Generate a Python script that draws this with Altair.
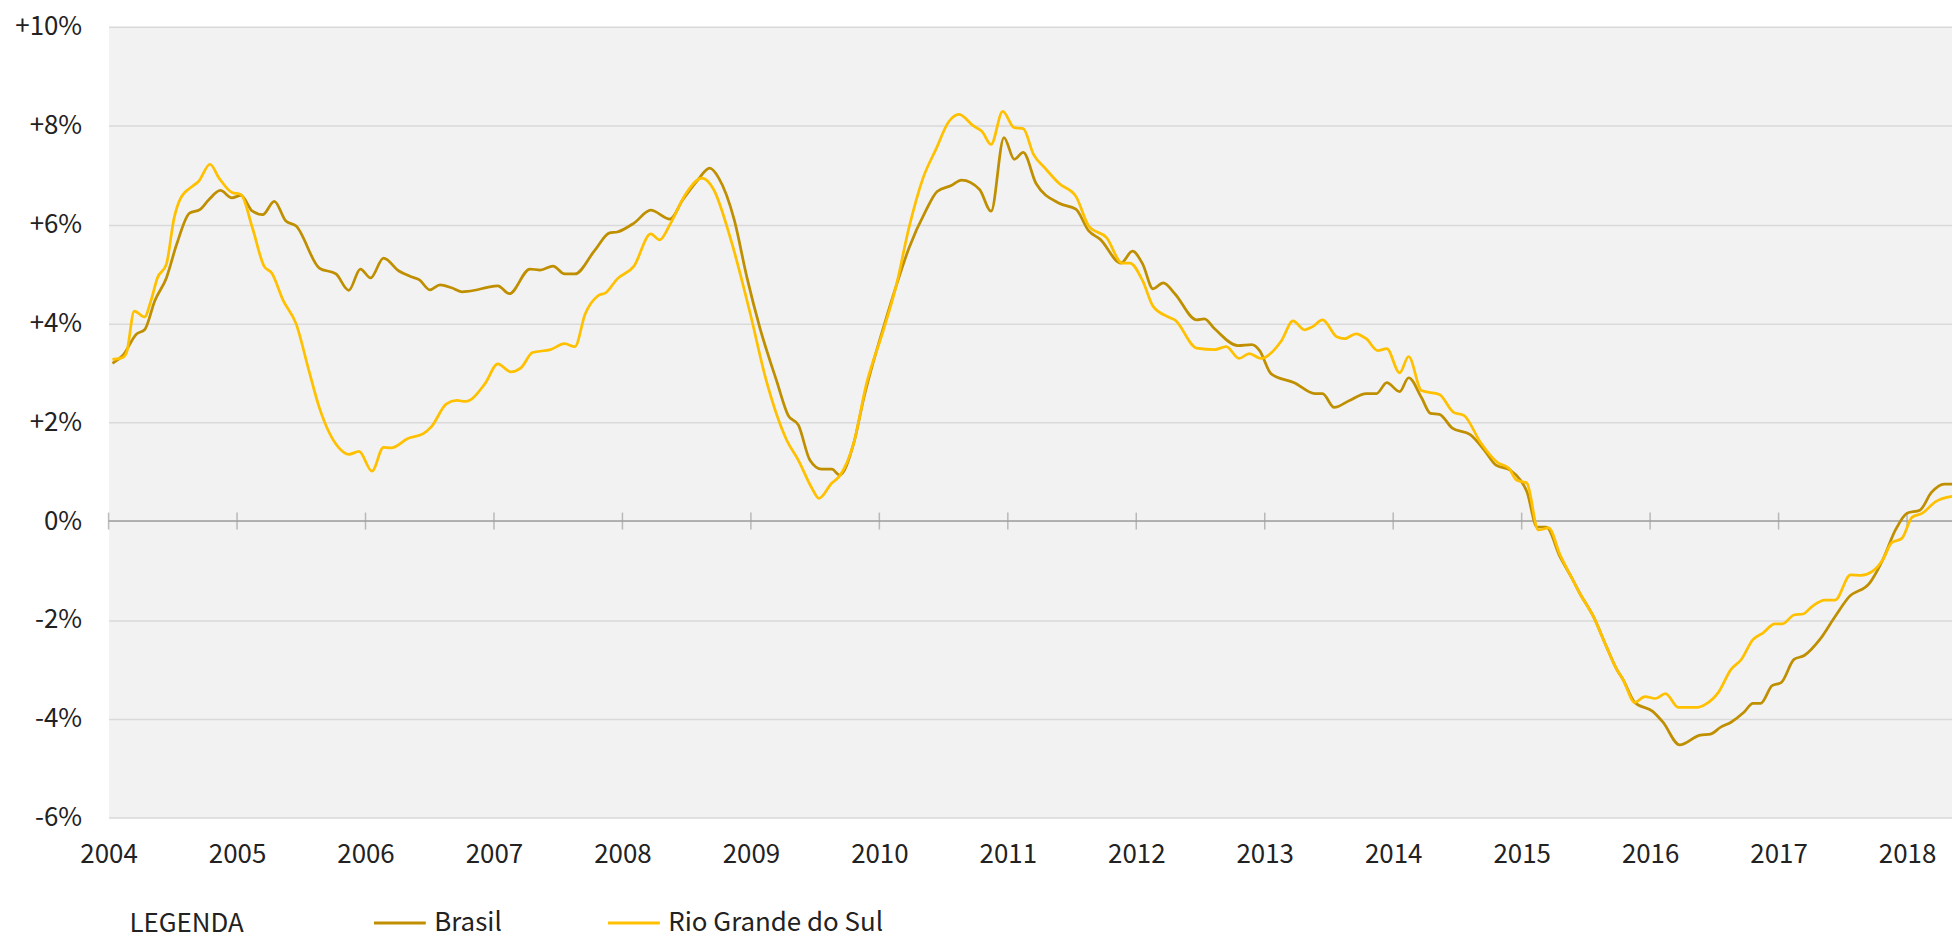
import altair as alt
import pandas as pd

# ---- data (fractional year, % change) ----
brasil_t = [2004.03, 2004.11, 2004.22, 2004.28, 2004.36, 2004.45, 2004.53, 2004.63, 2004.71, 2004.78,
            2004.87, 2004.96, 2005.03, 2005.12, 2005.20, 2005.29, 2005.38, 2005.46, 2005.64, 2005.77,
            2005.87, 2005.96, 2006.04, 2006.14, 2006.26, 2006.35, 2006.42, 2006.50, 2006.58, 2006.67,
            2006.75, 2006.85, 2006.95, 2007.03, 2007.12, 2007.28, 2007.36, 2007.46, 2007.55, 2007.63,
            2007.78, 2007.90, 2007.96, 2008.09, 2008.22, 2008.37, 2008.47, 2008.58, 2008.68, 2008.75,
            2008.87, 2008.97, 2009.07, 2009.20, 2009.29, 2009.37, 2009.46, 2009.55, 2009.63, 2009.69,
            2009.80, 2009.88, 2010.04, 2010.13, 2010.23, 2010.36, 2010.45, 2010.56, 2010.64, 2010.78,
            2010.87, 2010.97, 2011.05, 2011.12, 2011.22, 2011.40, 2011.53, 2011.63, 2011.72, 2011.88,
            2011.97, 2012.05, 2012.13, 2012.21, 2012.30, 2012.47, 2012.53, 2012.61, 2012.79, 2012.90,
            2012.96, 2013.05, 2013.23, 2013.39, 2013.45, 2013.54, 2013.66, 2013.79, 2013.87, 2013.95,
            2014.05, 2014.12, 2014.22, 2014.29, 2014.36, 2014.46, 2014.60, 2014.71, 2014.80, 2014.91,
            2014.99, 2015.04, 2015.12, 2015.19, 2015.30, 2015.39, 2015.45, 2015.56, 2015.66, 2015.74,
            2015.79, 2015.88, 2016.02, 2016.10, 2016.23, 2016.39, 2016.47, 2016.55, 2016.63, 2016.73,
            2016.80, 2016.86, 2016.95, 2017.02, 2017.12, 2017.20, 2017.32, 2017.44, 2017.55, 2017.71,
            2017.81, 2017.91, 2018.00, 2018.10, 2018.19, 2018.29, 2018.35]
brasil_v = [3.19, 3.35, 3.79, 3.87, 4.46, 4.92, 5.60, 6.23, 6.30, 6.50,
            6.69, 6.54, 6.59, 6.27, 6.20, 6.47, 6.07, 5.97, 5.12, 5.00,
            4.67, 5.10, 4.92, 5.32, 5.06, 4.95, 4.88, 4.68, 4.78, 4.72,
            4.64, 4.67, 4.73, 4.76, 4.60, 5.10, 5.08, 5.16, 5.00, 5.00,
            5.46, 5.83, 5.85, 6.03, 6.29, 6.11, 6.50, 6.88, 7.14, 6.94,
            6.10, 4.92, 3.91, 2.84, 2.14, 1.94, 1.23, 1.05, 1.05, 0.93,
            1.57, 2.50, 3.99, 4.75, 5.52, 6.27, 6.67, 6.79, 6.90, 6.71,
            6.27, 7.76, 7.32, 7.46, 6.83, 6.43, 6.31, 5.87, 5.70, 5.22,
            5.46, 5.20, 4.70, 4.82, 4.60, 4.07, 4.09, 3.89, 3.55, 3.57,
            3.45, 2.98, 2.80, 2.58, 2.58, 2.30, 2.44, 2.58, 2.58, 2.80,
            2.62, 2.90, 2.50, 2.18, 2.16, 1.88, 1.75, 1.43, 1.13, 1.03,
            0.83, 0.60, -0.12, -0.12, -0.73, -1.15, -1.45, -1.94, -2.54, -3.00,
            -3.21, -3.67, -3.85, -4.07, -4.53, -4.33, -4.31, -4.17, -4.07, -3.87,
            -3.69, -3.69, -3.33, -3.27, -2.80, -2.72, -2.40, -1.93, -1.53, -1.25,
            -0.79, -0.18, 0.16, 0.22, 0.58, 0.75, 0.75]

rs_t = [2004.03, 2004.11, 2004.14, 2004.20, 2004.28, 2004.33, 2004.38, 2004.45, 2004.51, 2004.56,
        2004.65, 2004.70, 2004.79, 2004.86, 2004.96, 2005.03, 2005.12, 2005.21, 2005.27, 2005.36,
        2005.46, 2005.56, 2005.64, 2005.79, 2005.87, 2005.95, 2006.05, 2006.14, 2006.20, 2006.33,
        2006.45, 2006.51, 2006.63, 2006.71, 2006.78, 2006.93, 2007.03, 2007.13, 2007.21, 2007.30,
        2007.44, 2007.55, 2007.63, 2007.71, 2007.81, 2007.87, 2007.96, 2008.09, 2008.22, 2008.29,
        2008.37, 2008.49, 2008.62, 2008.71, 2008.84, 2008.99, 2009.12, 2009.28, 2009.37, 2009.47,
        2009.53, 2009.63, 2009.69, 2009.80, 2009.90, 2010.03, 2010.13, 2010.23, 2010.34, 2010.44,
        2010.54, 2010.62, 2010.73, 2010.80, 2010.87, 2010.96, 2011.05, 2011.12, 2011.20, 2011.29,
        2011.40, 2011.53, 2011.63, 2011.77, 2011.89, 2011.95, 2012.05, 2012.13, 2012.25, 2012.30,
        2012.47, 2012.61, 2012.70, 2012.80, 2012.88, 2012.97, 2013.13, 2013.22, 2013.31, 2013.37,
        2013.45, 2013.56, 2013.62, 2013.71, 2013.79, 2013.88, 2013.95, 2014.05, 2014.12, 2014.22,
        2014.36, 2014.47, 2014.55, 2014.68, 2014.81, 2014.90, 2014.96, 2015.04, 2015.13, 2015.21,
        2015.30, 2015.39, 2015.45, 2015.56, 2015.66, 2015.74, 2015.79, 2015.88, 2015.96, 2016.04,
        2016.12, 2016.22, 2016.37, 2016.43, 2016.53, 2016.63, 2016.71, 2016.80, 2016.88, 2016.97,
        2017.03, 2017.12, 2017.19, 2017.26, 2017.36, 2017.44, 2017.56, 2017.64,
        2017.73, 2017.81, 2017.88, 2017.96, 2018.04, 2018.12, 2018.22, 2018.35]
rs_v = [3.27, 3.31, 3.41, 4.25, 4.13, 4.46, 4.92, 5.20, 6.13, 6.53,
        6.77, 6.87, 7.22, 6.94, 6.65, 6.61, 5.93, 5.16, 5.02, 4.46,
        3.99, 3.04, 2.30, 1.49, 1.35, 1.41, 1.01, 1.49, 1.48, 1.67,
        1.77, 1.90, 2.37, 2.44, 2.42, 2.78, 3.18, 3.02, 3.10, 3.41,
        3.47, 3.59, 3.53, 4.19, 4.56, 4.62, 4.90, 5.16, 5.81, 5.69,
        6.00, 6.61, 6.94, 6.71, 5.73, 4.25, 2.84, 1.63, 1.23, 0.69,
        0.46, 0.77, 0.91, 1.57, 2.78, 3.85, 4.75, 5.93, 6.94, 7.52,
        8.08, 8.23, 8.00, 7.88, 7.62, 8.29, 7.96, 7.94, 7.42, 7.14,
        6.83, 6.57, 5.97, 5.73, 5.22, 5.22, 4.86, 4.35, 4.13, 4.07,
        3.50, 3.47, 3.53, 3.29, 3.39, 3.29, 3.65, 4.05, 3.87, 3.93,
        4.07, 3.73, 3.69, 3.79, 3.69, 3.45, 3.49, 3.00, 3.33, 2.64,
        2.56, 2.20, 2.14, 1.59, 1.19, 1.07, 0.83, 0.77, -0.18, -0.14,
        -0.69, -1.15, -1.45, -1.94, -2.54, -3.00, -3.21, -3.67, -3.55, -3.59,
        -3.49, -3.77, -3.77, -3.71, -3.47, -3.00, -2.80, -2.40, -2.26, -2.08,
        -2.08, -1.90, -1.88, -1.73, -1.60, -1.60, -1.09, -1.10,
        -1.02, -0.79, -0.44, -0.35, 0.08, 0.16, 0.39, 0.50]

series_names = ["Brasil", "Rio Grande do Sul"]
series_colors = ["#bf8f00", "#ffc000"]
year_ticks = list(range(2004, 2019))
y_ticks = [-6, -4, -2, 0, 2, 4, 6, 8, 10]

df = pd.concat([
    pd.DataFrame({"t": brasil_t, "v": brasil_v, "serie": series_names[0]}),
    pd.DataFrame({"t": rs_t, "v": rs_v, "serie": series_names[1]}),
])
years_df = pd.DataFrame({"t": year_ticks, "v": [0] * len(year_ticks)})
zero_df = pd.DataFrame({"v": [0]})

FONT = "Noto Sans CJK JP"
FS = 26

x_scale = alt.Scale(domain=[2004, 2018.35], nice=False, zero=False)
y_scale = alt.Scale(domain=[-6, 10], nice=False, zero=False)

lines = alt.Chart(df).mark_line(interpolate="monotone", strokeWidth=2.75).encode(
    x=alt.X("t:Q", scale=x_scale, title=None,
            axis=alt.Axis(values=year_ticks, format="d", grid=False, ticks=False, domain=False,
                          labelFontSize=FS, labelFont=FONT, labelColor="#222222",
                          labelPadding=24, labelFlush=False, labelOverlap=False)),
    y=alt.Y("v:Q", scale=y_scale, title=None,
            axis=alt.Axis(values=y_ticks, grid=True, gridColor="#d9d9d9", gridWidth=1.5,
                          ticks=False, domain=False, labelFontSize=FS, labelFont=FONT,
                          labelColor="#222222", labelPadding=27,
                          labelExpr="(datum.value > 0 ? '+' : '') + datum.value + '%'")),
    color=alt.Color("serie:N",
                    scale=alt.Scale(domain=series_names, range=series_colors),
                    legend=alt.Legend(title="LEGENDA", orient="none", legendX=21, legendY=872,
                                      direction="horizontal", titleOrient="left",
                                      titleAnchor="middle", titleBaseline="line-top",
                                      titleLineHeight=18,
                                      titleFont=FONT, titleFontSize=FS, titleFontWeight="normal",
                                      titleColor="#222222", titlePadding=129,
                                      labelFont=FONT, labelFontSize=FS, labelColor="#222222",
                                      labelLimit=400,
                                      symbolType="stroke", symbolSize=2704, symbolStrokeWidth=3,
                                      labelOffset=7, columnPadding=100)),
)

zero_line = alt.Chart(zero_df).mark_rule(color="#a0a0a0", strokeWidth=1.5).encode(
    y=alt.Y("v:Q", scale=y_scale)
)
zero_ticks = alt.Chart(years_df).mark_tick(orient="vertical", size=17, thickness=1.5,
                                           color="#a0a0a0").encode(
    x=alt.X("t:Q", scale=x_scale),
    y=alt.Y("v:Q", scale=y_scale),
)

chart = alt.layer(zero_line, zero_ticks, lines).properties(
    width=1851, height=794,
    autosize=alt.AutoSizeParams(type="none"),
    padding={"left": 101, "top": 17, "right": 0, "bottom": 130},
).configure_view(fill="#f2f2f2", stroke="transparent")

chart.save("out.html", embed_options={"renderer": "svg", "actions": False})
